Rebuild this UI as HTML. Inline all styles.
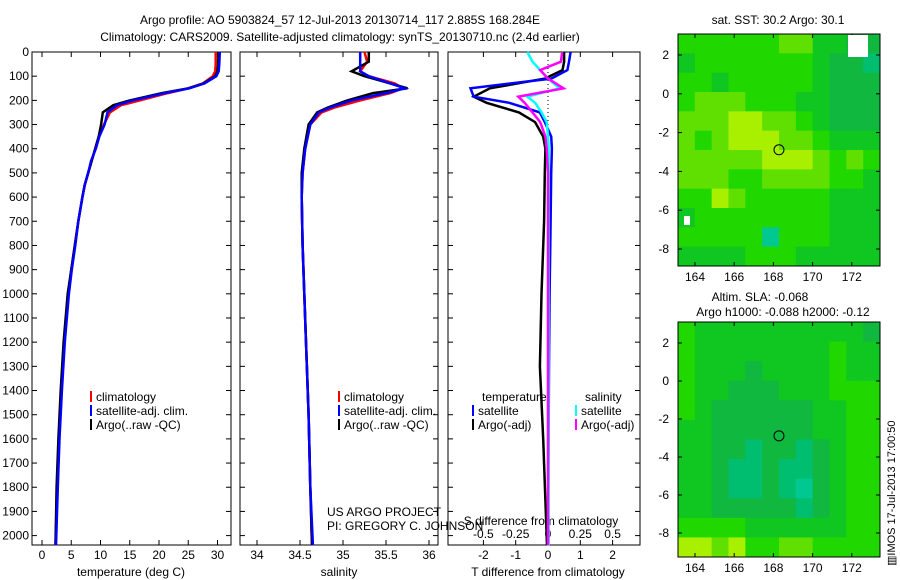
<!DOCTYPE html>
<html><head><meta charset="utf-8"><style>
body{margin:0;background:#fff}
svg{display:block;font-family:"Liberation Sans",sans-serif;font-size:12px}
</style></head><body>
<svg id="s" width="900" height="580" xmlns="http://www.w3.org/2000/svg">
<text x="340" y="24" text-anchor="middle">Argo profile: AO 5903824_57 12-Jul-2013 20130714_117 2.885S 168.284E</text>
<text x="340" y="41" text-anchor="middle">Climatology: CARS2009. Satellite-adjusted climatology: synTS_20130710.nc (2.4d earlier)</text>
<text x="778" y="24" text-anchor="middle">sat. SST: 30.2  Argo: 30.1</text>
<text x="760" y="301" text-anchor="middle">Altim. SLA: -0.068</text>
<text x="783" y="316" text-anchor="middle">Argo h1000: -0.088 h2000: -0.12</text>
<text transform="translate(895,566) rotate(-90)" font-size="11">▥IMOS 17-Jul-2013 17:00:50</text>
<g id="g"></g>
</svg>
<script>
const depthTicks=[0,100,200,300,400,500,600,700,800,900,1000,1100,1200,1300,1400,1500,1600,1700,1800,1900,2000];
const tDepth=[0,50,80,100,130,150,170,200,220,250,300,350,400,450,500,550,600,700,800,900,1000,1200,1400,1600,1800,2040];
const tClim=[29.7,29.7,29.6,29.2,27.5,25,21.5,16.7,13.5,11.6,10.6,9.7,9.1,8.5,7.9,7.3,6.9,6.2,5.6,5.0,4.5,3.8,3.3,2.9,2.6,2.3];
const tSat=[30.4,30.3,30.2,29.8,27.8,25.2,21,15.5,12.8,11.2,10.7,9.8,9.2,8.4,7.9,7.3,6.9,6.2,5.7,5.1,4.6,3.9,3.4,3.0,2.7,2.4];
const tArgo=[30.2,30.1,30.0,29.6,27.6,25,20.5,15,12.2,10.4,10.1,9.7,9.1,8.5,7.9,7.3,6.9,6.2,5.6,5.0,4.4,3.7,3.2,2.8,2.5,2.3];
const sDepth=[0,40,80,100,130,150,170,200,230,250,300,400,500,600,800,1000,1200,1500,1800,2040];
const sClim=[35.25,35.28,35.2,35.3,35.6,35.7,35.55,35.2,34.9,34.75,34.62,34.56,34.53,34.52,34.53,34.55,34.57,34.6,34.62,34.64];
const sSat=[35.2,35.2,35.2,35.3,35.55,35.72,35.5,35.1,34.85,34.72,34.62,34.56,34.53,34.52,34.53,34.55,34.57,34.6,34.62,34.65];
const sArgo=[35.3,35.3,35.1,35.25,35.55,35.75,35.35,35.05,34.82,34.7,34.6,34.55,34.52,34.52,34.53,34.55,34.57,34.6,34.62,34.64];
const dDepth=[0,40,75,110,150,185,210,250,290,350,400,500,700,1000,1300,1600,2040];
const dTSat=[0.7,0.65,0.6,0.1,-2.4,-2.3,-1.2,-0.25,-0.1,0.1,0.12,0.1,0.08,0.05,0.03,0.02,0];
const dTArgo=[0.5,0.5,0.45,-0.1,-1.8,-2.3,-1.9,-0.9,-0.4,-0.15,-0.08,-0.1,-0.12,-0.2,-0.25,-0.15,-0.03];
const dSSat=[-0.16,-0.12,-0.06,0.0,0.09,-0.16,-0.1,-0.05,-0.01,0.0,0.005,0.005,0.005,0.005,0.005,0.005,0.005];
const dSArgo=[0.11,0.1,-0.06,0.0,0.12,-0.23,-0.18,-0.12,-0.06,-0.02,-0.01,0.0,0.0,0.0,0.0,0.0,0.0];
const tTicks=[0,5,10,15,20,25,30];
const sTicks=[34,34.5,35,35.5,36];
const dTTicks=[-2,-1,0,1,2];
const dSTicks=[-0.5,-0.25,0,0.25,0.5];
const sstGrid=[
[5,5,5,5,5,5,6,6,4,4,3,3],[4,5,5,5,5,5,5,5,4,3,3,2],[5,5,4,5,5,5,5,5,4,3,3,3],[5,6,6,6,5,5,5,4,4,3,3,3],
[6,6,6,7,7,6,6,5,4,3,3,3],[6,5,6,7,7,7,6,6,5,4,4,4],[6,6,6,6,6,7,7,7,6,5,6,5],[6,6,6,5,5,6,6,6,6,5,5,4],
[5,5,7,6,5,5,5,5,5,4,4,4],[4,5,5,5,5,5,5,5,5,4,4,4],[5,5,5,5,5,1,5,5,5,4,4,4],[4,4,4,4,5,5,5,4,4,4,4,4]];
const slaGrid=[
[5,4,4,4,4,4,4,4,4,4,4,3],[5,4,4,4,4,4,4,4,4,5,4,4],[5,4,4,4,3,4,4,4,4,5,4,4],[5,4,4,3,3,3,4,4,4,5,5,5],
[5,4,3,3,3,3,3,3,4,4,5,5],[4,4,3,3,3,3,3,3,4,4,5,5],[4,4,3,3,2,3,3,2,3,4,5,5],[4,4,3,2,2,3,2,2,3,4,5,5],
[4,4,3,2,2,3,2,1,3,4,5,5],[4,4,3,3,3,3,3,2,3,4,5,5],[5,5,5,5,4,4,4,4,4,4,5,5],[7,7,6,7,5,5,6,6,5,5,5,5]];
const lonTicks=[164,166,168,170,172];
const latTicks=[2,0,-2,-4,-6,-8];
const argoLon=168.284, argoLat=-2.885;

const NS='http://www.w3.org/2000/svg', G=document.getElementById('g');
function el(t,a,p){const e=document.createElementNS(NS,t);for(const k in a)e.setAttribute(k,a[k]);(p||G).appendChild(e);return e;}
const Y0=52,Y1=545;
const yD=d=>Y0+d*0.2418;
function box(x0,x1,name){const r=el('rect',{x:x0,y:Y0,width:x1-x0,height:Y1-Y0,fill:'none',stroke:'#000'});

depthTicks.forEach(d=>{el('line',{x1:x0,x2:x0+5,y1:yD(d),y2:yD(d),stroke:'#000'});el('line',{x1:x1,x2:x1-5,y1:yD(d),y2:yD(d),stroke:'#000'});});}
function line(vals,deps,fx,col,name,w){let d='';vals.forEach((v,i)=>{d+=(i?'L':'M')+fx(v).toFixed(1)+','+yD(deps[i]).toFixed(1);});
const p=el('path',{d:d,fill:'none',stroke:col,'stroke-width':w||2.5});}
function txt(x,y,s,anchor,name){const t=el('text',{x:x,y:y,'text-anchor':anchor||'start'});t.textContent=s;return t;}
function xticks(x0,x1,ticks,fx,ly,top){ticks.forEach(v=>{const x=fx(v);el('line',{x1:x,x2:x,y1:Y1,y2:Y1-5,stroke:'#000'});if(top)el('line',{x1:x,x2:x,y1:Y0,y2:Y0+5,stroke:'#000'});if(ly)txt(x,ly,String(v),'middle','x-tick-label');});}
function legend(x,y,col,label){const r=el('rect',{x:x,y:y-10,width:2,height:11,fill:col});txt(x+6,y,label,'start','legend-entry');}

// panel 1 temperature
const fT=v=>42+v*5.85;
box(32,231,'temperature-axes');
depthTicks.forEach(d=>txt(29,yD(d)+4,String(d),'end','y-tick-label'));
xticks(32,231,tTicks,fT,559,true);
txt(131,576,'temperature (deg C)','middle','x-axis-title');
line(tClim,tDepth,fT,'#f00','temp-clim');line(tArgo,tDepth,fT,'#000','temp-argo');line(tSat,tDepth,fT,'#00f','temp-sat');
legend(90,401,'#f00','climatology');legend(90,415,'#00f','satellite-adj. clim.');legend(90,429,'#000','Argo(..raw -QC)');

// panel 2 salinity
const fS=v=>257+(v-34)*86;
box(240,438,'salinity-axes');
xticks(240,438,sTicks,fS,559,true);
txt(339,576,'salinity','middle','x-axis-title');
line(sClim,sDepth,fS,'#f00','sal-clim');line(sArgo,sDepth,fS,'#000','sal-argo');line(sSat,sDepth,fS,'#00f','sal-sat');
legend(338,401,'#f00','climatology');legend(338,415,'#00f','satellite-adj. clim.');legend(338,429,'#000','Argo(..raw -QC)');
txt(327,516,'US ARGO PROJECT','start','project-label');txt(327,530,'PI: GREGORY C. JOHNSON','start','pi-label');

// panel 3 differences
const fdT=v=>548+v*32.3, fdS=v=>548+v*129.2;
box(448,640,'difference-axes');
xticks(448,640,dTTicks,fdT,559,true);
dSTicks.forEach(v=>txt(fdS(v),538,String(v),'middle','s-tick-label'));
el('line',{x1:548,x2:548,y1:Y0,y2:Y1,stroke:'#000','stroke-dasharray':'1,3'});
txt(541,525,'S difference from climatology','middle','s-axis-title');
txt(548,576,'T difference from climatology','middle','x-axis-title');
line(dTArgo,dDepth,fdT,'#000','dT-argo');line(dTSat,dDepth,fdT,'#00f','dT-sat');
line(dSSat,dDepth,fdS,'#0ff','dS-sat');line(dSArgo,dDepth,fdS,'#f0f','dS-argo');
txt(482,401,'temperature','start','legend-title');txt(585,401,'salinity','start','legend-title');
legend(472,415,'#00f','satellite');legend(472,429,'#000','Argo(-adj)');
legend(575,415,'#0ff','satellite');legend(575,429,'#f0f','Argo(-adj)');

// maps
const cmap=['#00c8b0','#00c890','#00be70','#10b840','#10c620','#20d800','#60e000','#a8f000'];
function map(grid,x0,y0,x1,y1,yLat2,yLatM8,name){
 const fx=lon=>695+(lon-164)*19.6, fy=lat=>yLat2+(2-lat)*(yLatM8-yLat2)/10;
 const g=el('g',{});
 const rows=grid.length, cols=grid[0].length, cw=(x1-x0)/cols, ch=(y1-y0)/rows;
 grid.forEach((row,i)=>row.forEach((v,j)=>{const r=el('rect',{x:x0+j*cw,y:y0+i*ch,width:cw+0.5,height:ch+0.5,fill:cmap[v]},g);
  }));
 el('rect',{x:x0,y:y0,width:x1-x0,height:y1-y0,fill:'none',stroke:'#000'});
 lonTicks.forEach(l=>{const x=fx(l);el('line',{x1:x,x2:x,y1:y0,y2:y0+4,stroke:'#000'});el('line',{x1:x,x2:x,y1:y1,y2:y1-4,stroke:'#000'});txt(x,y1+15,String(l),'middle','lon-tick-label');});
 latTicks.forEach(l=>{const y=fy(l);el('line',{x1:x0,x2:x0+4,y1:y,y2:y,stroke:'#000'});el('line',{x1:x1,x2:x1-4,y1:y,y2:y,stroke:'#000'});txt(x0-9,y+4,String(l),'end','lat-tick-label');});
 const c=el('circle',{cx:fx(argoLon),cy:fy(argoLat),r:5,fill:'none',stroke:'#000'});
 
}
map(sstGrid,678,34,880,266,55,249,'sst-map');
map(slaGrid,678,322,880,557,343,533,'sla-map');
el('rect',{x:848,y:35,width:20,height:22,fill:'#fff'});
el('rect',{x:684,y:216,width:6,height:9,fill:'#fff'});
</script>
</body></html>
